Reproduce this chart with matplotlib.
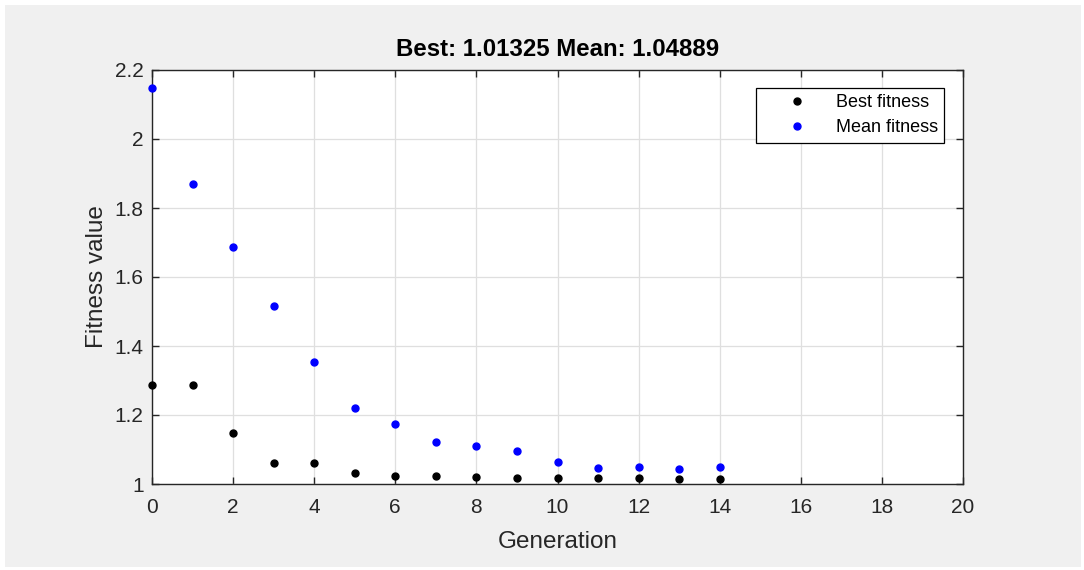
import matplotlib
matplotlib.use("Agg")
import matplotlib.pyplot as plt
from matplotlib.patches import Rectangle

generation = list(range(15))
best_fitness = [1.286, 1.286, 1.149, 1.060, 1.060, 1.031, 1.023, 1.023, 1.019,
                1.016, 1.016, 1.016, 1.016, 1.015, 1.01325]
mean_fitness = [2.148, 1.871, 1.687, 1.515, 1.353, 1.221, 1.175, 1.123, 1.111,
                1.097, 1.063, 1.047, 1.050, 1.043, 1.04889]
title = "Best: 1.01325 Mean: 1.04889"

plt.rcParams["font.family"] = ["Liberation Sans", "DejaVu Sans"]
AX_C = "#262626"

fig = plt.figure(figsize=(10.84, 5.70), dpi=100, facecolor="white")
# grey MATLAB-style figure background
fig.patches.append(Rectangle((5 / 1084, 3 / 570), 1076 / 1084, 562 / 570,
                             transform=fig.transFigure, facecolor="#f0f0f0",
                             edgecolor="none", zorder=-10))

ax = fig.add_axes([152 / 1084, 86 / 570, 811 / 1084, 414 / 570])
ax.set_facecolor("white")

ax.plot(generation, best_fitness, "o", color="black", ms=5, label="Best fitness",
        clip_on=False, zorder=3)
ax.plot(generation, mean_fitness, "o", color="#0000ff", ms=5, label="Mean fitness",
        clip_on=False, zorder=3)

ax.set_xlim(0, 20)
ax.set_ylim(1, 2.2)
ax.set_xticks(range(0, 21, 2))
ax.set_yticks([1, 1.2, 1.4, 1.6, 1.8, 2, 2.2])
ax.set_yticklabels(["1", "1.2", "1.4", "1.6", "1.8", "2", "2.2"])

ax.grid(True, color="#dfdfdf", lw=0.9)
ax.set_axisbelow(True)
for s in ax.spines.values():
    s.set_color(AX_C)
    s.set_linewidth(1.0)
ax.tick_params(direction="in", length=5, width=1, colors=AX_C, labelsize=15,
               top=True, right=True)
ax.tick_params(axis="x", pad=10)
ax.tick_params(axis="y", pad=6)

ax.set_xlabel("Generation", fontsize=17.5, color=AX_C, labelpad=10)
ax.set_ylabel("Fitness value", fontsize=17.5, color=AX_C, labelpad=5)
ax.set_title(title, fontsize=17.3, fontweight="bold", color="black", pad=10)

leg = ax.legend(loc="upper right", bbox_to_anchor=(0.977, 0.957), fontsize=13,
                frameon=True, fancybox=False, edgecolor="black", framealpha=1,
                borderpad=0.35, handletextpad=0.2, handlelength=3.9, labelspacing=0.45,
                borderaxespad=0)
leg.get_frame().set_linewidth(0.9)

fig.savefig("out.png", dpi=100, facecolor=fig.get_facecolor())
